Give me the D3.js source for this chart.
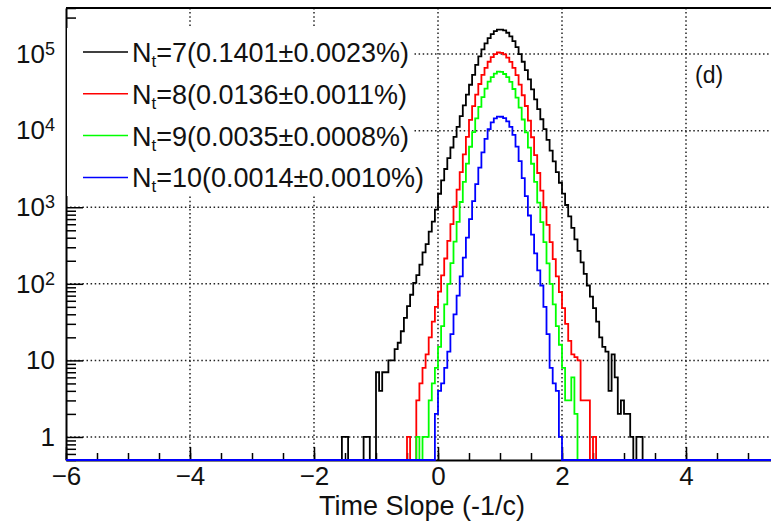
<!DOCTYPE html>
<html>
<head>
<meta charset="utf-8">
<script src="https://cdn.jsdelivr.net/npm/d3@7"></script>
<style>
body { margin: 0; background: #fff; }
svg { display: block; font-family: "Liberation Sans", Arial, Helvetica, sans-serif; }
</style>
</head>
<body>
<div id="chart"></div>
<script>
// histogram binning (time slope, units of -1/c)
const binWidth = 0.05;
const xDomain = [-6, 6];
const yDomain = [0.5, 4e5];

// per-bin counts; each array starts at its low edge
const blackStart = -1.55;
const blackCounts = [1, 1, 0, 0, 0, 0, 0, 1, 1, 0, 0,
  7, 4, 7, 7, 10, 10, 14, 17, 24, 36, 51, 72, 103, 130, 178, 257, 330, 480, 650, 930,
  1500, 2240, 3160, 4370, 6030, 8320, 11200, 15500, 21400, 29500, 39800, 53700, 72400, 93300,
  115000, 138000, 162000, 182000, 200000, 209000, 209000, 204000, 190000, 170000, 148000, 123000,
  100000, 79400, 61700, 46800, 34700, 25700, 19100, 14100, 10500, 7590, 5500, 3980, 2880, 2090,
  1510, 1070, 759, 537, 380, 269, 190, 135, 95, 68, 48, 32, 20, 15, 13, 4, 12, 6, 2, 3, 2, 2, 1, 0, 1, 1];

const redStart = -0.50;
const redCounts = [1, 0, 0, 3, 5, 8, 12, 20, 32, 50,
  79, 129, 214, 363, 603, 1020, 1700, 2880, 4900, 8320, 13800, 20900, 29500, 40700, 53700, 66100,
  79400, 91200, 100000, 105000, 104000, 99000, 90000, 79000, 66000, 53000, 40000, 29000, 21000,
  13500, 8200, 4800, 2800, 1650, 1000, 590, 350, 210, 125, 78, 48, 30, 18, 12, 11, 10, 3, 3, 3, 0, 1];

const greenStart = -0.35;
const greenCounts = [1, 0, 1, 1, 3, 5, 8,
  15, 28, 54, 100, 186, 355, 645, 1170, 2140, 3720, 6170, 9550, 14500, 20400, 27500, 35500, 43700,
  50100, 55600, 58900, 58500, 55000, 50000, 43500, 35000, 27000, 20000, 14000, 9500, 6000, 3700,
  2150, 1150, 640, 350, 185, 100, 54, 28, 16, 8, 3, 3, 6, 2];

const blueStart = -0.05;
const blueCounts = [2, 4, 5, 8, 13, 22, 40, 70, 125, 220, 400, 700, 1200, 2000, 3300, 5200, 7800,
  10500, 12800, 14500, 15300, 15200, 14600, 13200, 11200, 8800, 6200, 4000, 2400, 1400, 780, 440,
  250, 150, 95, 50, 22, 8, 5, 4, 1];

const ntValues = [7, 8, 9, 10];
const fractions = ["0.1401±0.0023%", "0.0136±0.0011%", "0.0035±0.0008%", "0.0014±0.0010%"];
const xMajorTicks = [-6, -4, -2, 0, 2, 4];
const yMajorTicks = [1, 10, 100, 1000, 10000, 100000];

const colors = ["#000000", "#ff0000", "#00ff00", "#0000ff"];
const hists = [
  {start: blackStart, counts: blackCounts},
  {start: redStart, counts: redCounts},
  {start: greenStart, counts: greenCounts},
  {start: blueStart, counts: blueCounts}
];

const width = 771, height = 522;
const frameLeft = 66, frameTop = 8, frameBottom = 460, frameRight = 66 + 62 * 12;

const svg = d3.select('#chart').append('svg')
  .attr('width', width)
  .attr('height', height);

const x = d3.scaleLinear().domain(xDomain).range([frameLeft, frameRight]);
const y = d3.scaleLog().domain(yDomain).range([frameBottom, frameTop]);

svg.append('clipPath').attr('id', 'frame')
  .append('rect')
  .attr('x', frameLeft).attr('y', frameTop - 1)
  .attr('width', frameRight - frameLeft).attr('height', frameBottom - frameTop + 2);

// dotted grid
const grid = svg.append('g').attr('class', 'grid');
grid.selectAll('line.gv')
  .data(xMajorTicks.filter(d => d > xDomain[0]))
  .enter().append('line')
  .attr('class', 'gv')
  .attr('x1', d => x(d)).attr('x2', d => x(d))
  .attr('y1', frameTop).attr('y2', frameBottom);
grid.selectAll('line.gh')
  .data(yMajorTicks)
  .enter().append('line')
  .attr('class', 'gh')
  .attr('x1', frameLeft).attr('x2', frameRight)
  .attr('y1', d => y(d)).attr('y2', d => y(d));
grid.selectAll('line')
  .style('stroke', '#222')
  .style('stroke-width', '1.5px')
  .style('stroke-dasharray', '1.5,2.6');

// x axis: ticks point up into the frame
svg.append('g')
  .attr('transform', 'translate(0,' + frameBottom + ')')
  .call(d3.axisBottom(x).tickValues(x.ticks(24)).tickSize(-7).tickFormat(''))
  .call(g => g.select('.domain').remove())
  .selectAll('line').attr('stroke-width', 1.5);

svg.append('g')
  .attr('transform', 'translate(0,' + frameBottom + ')')
  .call(d3.axisBottom(x).tickValues(xMajorTicks).tickSizeInner(-13).tickSizeOuter(0).tickPadding(7))
  .call(g => g.select('.domain').attr('stroke-width', 2))
  .call(g => g.selectAll('line').attr('stroke-width', 1.5))
  .selectAll('text')
  .attr('font-size', 26)
  .attr('font-family', '"Liberation Sans", Arial, sans-serif')
  .attr('fill', '#111');

// y axis, log scale
const yMinor = y.ticks().filter(d => !yMajorTicks.includes(d));
svg.append('g')
  .attr('transform', 'translate(' + frameLeft + ',0)')
  .call(d3.axisLeft(y).tickValues(yMinor).tickSize(-10).tickFormat(''))
  .call(g => g.select('.domain').remove())
  .selectAll('line').attr('stroke-width', 1.5);

const yAxis = svg.append('g')
  .attr('transform', 'translate(' + frameLeft + ',0)')
  .call(d3.axisLeft(y).tickValues(yMajorTicks).tickSizeInner(-17).tickSizeOuter(0).tickPadding(11).tickFormat(''))
  .call(g => g.select('.domain').attr('stroke-width', 2))
  .call(g => g.selectAll('line').attr('stroke-width', 1.5));

yAxis.selectAll('.tick text').each(function(d) {
  const t = d3.select(this)
    .attr('font-size', 26)
    .attr('font-family', '"Liberation Sans", Arial, sans-serif')
    .attr('fill', '#111');
  const p = Math.round(Math.log10(d));
  if (p < 2) {
    t.text(d);
  } else {
    t.append('tspan').text('10');
    t.append('tspan').attr('font-size', 18).attr('dy', -8).text(p);
  }
});

// top frame line
svg.append('line')
  .attr('x1', frameLeft).attr('x2', frameRight)
  .attr('y1', frameTop).attr('y2', frameTop)
  .attr('stroke', '#000').attr('stroke-width', 2);

// histograms as step outlines; empty bins sit on the bottom of the frame
const line = d3.line();
const histG = svg.append('g').attr('clip-path', 'url(#frame)');
hists.forEach((h, k) => {
  const yOf = v => v > 0 ? y(v) : frameBottom;
  const end = h.start + h.counts.length * binWidth;
  const pts = [[x(xDomain[0]), frameBottom], [x(h.start), frameBottom]];
  h.counts.forEach((v, i) => {
    const lo = h.start + i * binWidth;
    pts.push([x(lo), yOf(v)], [x(lo + binWidth), yOf(v)]);
  });
  pts.push([x(end), frameBottom], [x(xDomain[1]), frameBottom]);
  histG.append('path')
    .attr('d', line(pts))
    .attr('fill', 'none')
    .attr('stroke', colors[k])
    .attr('stroke-width', 1.8)
    .attr('stroke-linejoin', 'miter');
});

// legend
const legend = svg.append('g');
legend.append('rect')
  .attr('x', frameLeft + 1).attr('y', 28)
  .attr('width', 346).attr('height', 168)
  .attr('fill', '#fff');
const rows = legend.selectAll('g.row')
  .data(ntValues)
  .enter().append('g')
  .attr('transform', (d, i) => 'translate(0,' + (52 + i * 41.8) + ')');
rows.append('line')
  .attr('x1', 83).attr('x2', 128)
  .attr('stroke', (d, i) => colors[i])
  .attr('stroke-width', 1.5);
const lt = rows.append('text')
  .attr('x', 132).attr('y', 10)
  .attr('font-size', 27)
  .attr('fill', '#111');
lt.append('tspan').text('N');
lt.append('tspan').attr('font-size', 17).attr('dy', 5).text('t');
lt.append('tspan').attr('dy', -5).text((d, i) => '=' + d + '(' + fractions[i] + ')');

svg.append('text')
  .attr('x', 695).attr('y', 83)
  .attr('font-size', 23)
  .attr('fill', '#111')
  .text('(d)');

svg.append('text')
  .attr('x', 422).attr('y', 515)
  .attr('text-anchor', 'middle')
  .attr('font-size', 27)
  .attr('fill', '#111')
  .text('Time Slope (-1/c)');
</script>
</body>
</html>
